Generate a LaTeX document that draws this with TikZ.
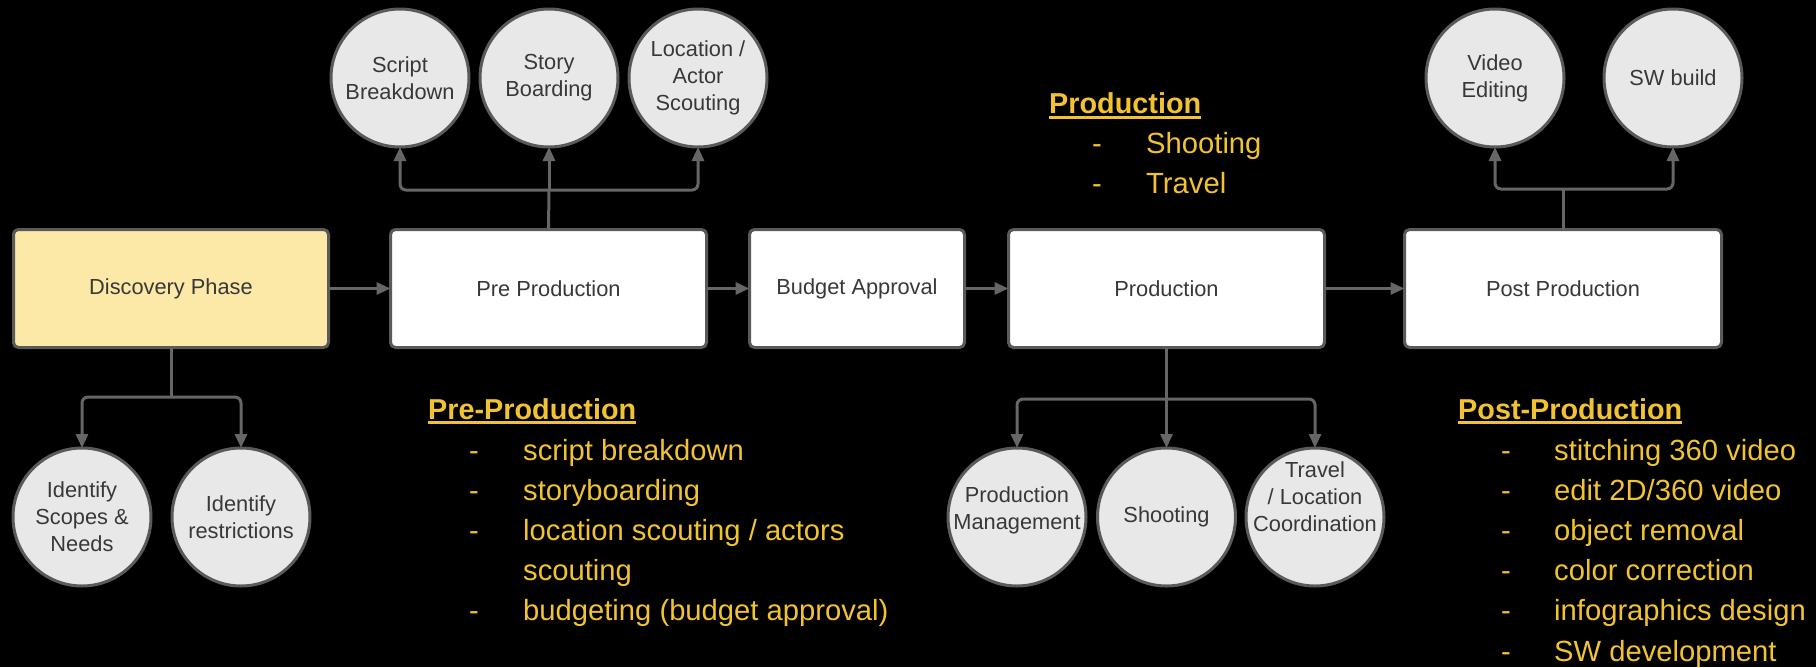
\documentclass[tikz,border=0pt]{standalone}
\usepackage{fontspec}
\setmainfont{Liberation Sans}
\usetikzlibrary{arrows.meta,calc}
\definecolor{ylw}{HTML}{F1C232}
\definecolor{linec}{HTML}{666666}
\definecolor{edgec}{HTML}{5A5A5A}
\definecolor{txtc}{HTML}{383838}
\definecolor{discfill}{HTML}{FCE9A8}
\definecolor{circfill}{HTML}{E8E8E8}
\begin{document}
\begin{tikzpicture}[x=1pt,y=-1pt,
  box/.style={draw=edgec,line width=3pt,rounded corners=5pt,fill=white,minimum height=118pt,
    text=txtc,font=\fontsize{21.8}{27}\selectfont,inner sep=0pt,outer sep=0pt},
  circ/.style={circle,draw=edgec,line width=3pt,fill=circfill,minimum size=138pt,inner sep=0pt,
    outer sep=0pt,text=txtc,align=center,font=\fontsize{21.8}{27}\selectfont},
  ctext/.style={text=txtc,align=center,inner sep=0pt,font=\fontsize{21.8}{27}\selectfont},
  conn/.style={draw=linec,line width=3pt,rounded corners=6pt,-{Triangle[length=14pt,width=12pt]}},
  plainconn/.style={draw=linec,line width=3pt,rounded corners=6pt},
  head/.style={text=ylw,font=\fontsize{28.8}{34}\selectfont\bfseries,anchor=base west,inner sep=0pt},
  item/.style={text=ylw,font=\fontsize{29.2}{34}\selectfont,anchor=base west,inner sep=0pt},
  uline/.style={draw=ylw,line width=3pt}
]
\fill[black] (0,0) rectangle (1816,667);
\useasboundingbox (0,0) rectangle (1816,667);

% main boxes
\node[box,fill=discfill,minimum width=315pt] (disc) at (171,288.5) {Discovery Phase};
\node[box,minimum width=316pt] (pre) at (548.5,288.5) {Pre Production};
\node[box,minimum width=215pt] (bud) at (857,288.5) {Budget Approval};
\node[box,minimum width=316pt] (prod) at (1166.5,288.5) {Production};
\node[box,minimum width=317pt] (post) at (1563,288.5) {Post Production};

% circles
\node[circ] (scr) at (400,78) {Script\\Breakdown};
\node[circ] (sto) at (549,78) {Story\\Boarding};
\node[circ] (loc) at (698,78) {Location /\\Actor\\Scouting};
\node[circ] (vid) at (1495,78) {Video\\Editing};
\node[circ] (swb) at (1673,78) {SW build};
\node[circ] (isn) at (82,517) {Identify\\Scopes \&\\Needs};
\node[circ] (ire) at (241,517) {Identify\\restrictions};
\node[circ] (pm) at (1017,517) {};
\node[ctext] (pmt) at ([yshift=7pt]pm.center) {Production\\Management};
\node[circ] (sho) at (1166.5,517) {Shooting};
\node[circ] (trv) at (1315,517) {};
\node[ctext] (trvt) at ([yshift=20pt]trv.center) {Travel\\/ Location\\Coordination};

% junction points
\coordinate (jpre) at (549,190);
\coordinate (jpost) at (1563,189);
\coordinate (jdisc) at (171,397);
\coordinate (jprod) at (1166.5,399);

% main flow
\draw[conn] (disc.east) -- (pre.west);
\draw[conn] (pre.east) -- (bud.west);
\draw[conn] (bud.east) -- (prod.west);
\draw[conn] (prod.east) -- (post.west);

% branches
\draw[plainconn] (pre.north) -- (jpre);
\draw[conn] (jpre) -| (scr.south);
\draw[conn] (jpre) -- (sto.south);
\draw[conn] (jpre) -| (loc.south);

\draw[plainconn] (post.north) -- (jpost);
\draw[conn] (jpost) -| (vid.south);
\draw[conn] (jpost) -| (swb.south);

\draw[plainconn] (disc.south) -- (jdisc);
\draw[conn] (jdisc) -| (isn.north);
\draw[conn] (jdisc) -| (ire.north);

\draw[plainconn] (prod.south) -- (jprod);
\draw[conn] (jprod) -| (pm.north);
\draw[conn] (jprod) -- (sho.north);
\draw[conn] (jprod) -| (trv.north);

% Production notes
\node[head] (hprod) at (1049,113) {Production};
\draw[uline] ($(hprod.base west)+(0,4)$) -- ($(hprod.base east)+(0,4)$);
\node[item] (pd1) at (1092,153) {-};
\node[item] (pt1) at (1146,153) {Shooting};
\node[item] (pd2) at (1092,193) {-};
\node[item] (pt2) at (1146,193) {Travel};

% Pre-Production notes
\node[head] (hpre) at (428,419) {Pre-Production};
\draw[uline] ($(hpre.base west)+(0,3.5)$) -- ($(hpre.base east)+(0,3.5)$);
\node[item] (rd1) at (469,460) {-};
\node[item] (rt1) at (523,460) {script breakdown};
\node[item] (rd2) at (469,500) {-};
\node[item] (rt2) at (523,500) {storyboarding};
\node[item] (rd3) at (469,540) {-};
\node[item] (rt3) at (523,540) {location scouting / actors};
\node[item] (rt3b) at (523,580) {scouting};
\node[item] (rd4) at (469,620) {-};
\node[item] (rt4) at (523,620) {budgeting (budget approval)};

% Post-Production notes
\node[head] (hpost) at (1458,419) {Post-Production};
\draw[uline] ($(hpost.base west)+(0,3.5)$) -- ($(hpost.base east)+(0,3.5)$);
\node[item] (sd1) at (1501,460) {-};
\node[item] (st1) at (1554,460) {stitching 360 video};
\node[item] (sd2) at (1501,500) {-};
\node[item] (st2) at (1554,500) {edit 2D/360 video};
\node[item] (sd3) at (1501,540) {-};
\node[item] (st3) at (1554,540) {object removal};
\node[item] (sd4) at (1501,580) {-};
\node[item] (st4) at (1554,580) {color correction};
\node[item] (sd5) at (1501,620) {-};
\node[item] (st5) at (1554,620) {infographics design};
\node[item] (sd6) at (1501,661) {-};
\node[item] (st6) at (1554,661) {SW development};
\end{tikzpicture}
\end{document}
